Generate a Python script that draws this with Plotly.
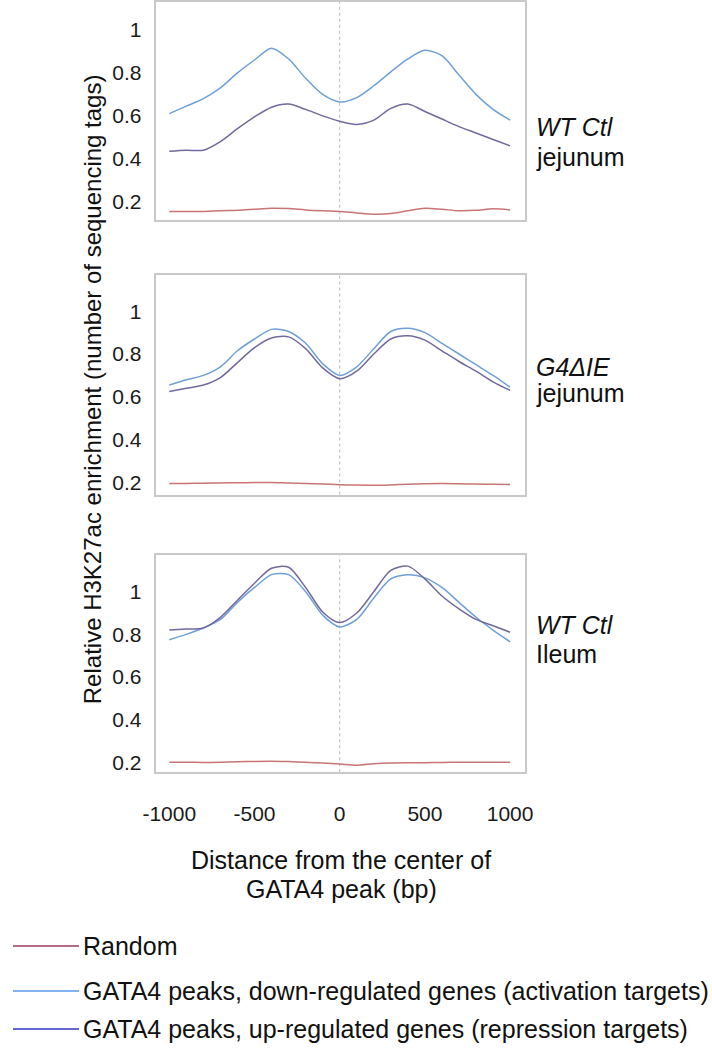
import plotly.graph_objects as go

# ---------------- data ----------------
distance_bp = [-1000, -900, -800, -700, -600, -500, -400, -300, -200, -100, 0,
               100, 200, 300, 400, 500, 600, 700, 800, 900, 1000]

# Panel 1: WT Ctl jejunum
wt_jej_random = [0.155, 0.155, 0.155, 0.158, 0.160, 0.165, 0.170, 0.168, 0.162, 0.158, 0.155,
                 0.148, 0.142, 0.145, 0.158, 0.170, 0.165, 0.158, 0.160, 0.167, 0.162]
wt_jej_act = [0.61, 0.645, 0.68, 0.73, 0.80, 0.86, 0.915, 0.865, 0.775, 0.70, 0.665,
              0.685, 0.74, 0.805, 0.865, 0.905, 0.88, 0.79, 0.70, 0.63, 0.58]
wt_jej_rep = [0.435, 0.44, 0.44, 0.48, 0.54, 0.595, 0.64, 0.655, 0.63, 0.60, 0.575,
              0.56, 0.58, 0.635, 0.655, 0.62, 0.585, 0.55, 0.52, 0.49, 0.46]

# Panel 2: G4ΔIE jejunum
g4_jej_random = [0.195, 0.196, 0.197, 0.198, 0.199, 0.200, 0.200, 0.198, 0.196, 0.193, 0.190,
                 0.188, 0.187, 0.189, 0.192, 0.194, 0.195, 0.194, 0.193, 0.192, 0.191]
g4_jej_act = [0.655, 0.68, 0.70, 0.74, 0.815, 0.87, 0.915, 0.905, 0.85, 0.755, 0.70,
              0.74, 0.825, 0.905, 0.92, 0.90, 0.85, 0.80, 0.75, 0.70, 0.645]
g4_jej_rep = [0.625, 0.64, 0.655, 0.69, 0.76, 0.83, 0.875, 0.88, 0.825, 0.735, 0.685,
              0.72, 0.80, 0.87, 0.885, 0.865, 0.815, 0.765, 0.72, 0.67, 0.63]

# Panel 3: WT Ctl ileum
wt_ile_random = [0.200, 0.200, 0.199, 0.200, 0.202, 0.204, 0.205, 0.203, 0.200, 0.196, 0.192,
                 0.186, 0.193, 0.197, 0.198, 0.198, 0.199, 0.200, 0.200, 0.200, 0.200]
wt_ile_act = [0.775, 0.80, 0.83, 0.87, 0.95, 1.02, 1.08, 1.08, 1.00, 0.89, 0.835,
              0.87, 0.97, 1.06, 1.08, 1.065, 1.02, 0.95, 0.88, 0.82, 0.765]
wt_ile_rep = [0.82, 0.825, 0.83, 0.88, 0.96, 1.04, 1.11, 1.115, 1.02, 0.905, 0.855,
              0.90, 1.00, 1.10, 1.12, 1.06, 0.98, 0.92, 0.87, 0.84, 0.81]

x_tickvals = [-1000, -500, 0, 500, 1000]
x_ticktext = ["-1000", "-500", "0", "500", "1000"]
y_tickvals = [0.2, 0.4, 0.6, 0.8, 1.0]
y_ticktext = ["0.2", "0.4", "0.6", "0.8", "1"]

legend_labels = ["Random",
                 "GATA4 peaks, down-regulated genes (activation targets)",
                 "GATA4 peaks, up-regulated genes (repression targets)"]

panels = [
    (wt_jej_random, wt_jej_act, wt_jej_rep, [0.116, 1.13]),
    (g4_jej_random, g4_jej_act, g4_jej_rep, [0.144, 1.17]),
    (wt_ile_random, wt_ile_act, wt_ile_rep, [0.153, 1.17]),
]

# ---------------- styling ----------------
W, H = 712, 1050
FONT = "Liberation Sans, Arial, sans-serif"
C_RANDOM = "#c97474"
C_ACT = "#6fa0d8"
C_REP = "#72699e"
LEG_COLORS = ["#9b3c62", "#5b9bea", "#3333c4"]
FRAME = "#c9c9c9"

# panel frames in pixel coordinates (top, bottom)
frames_px = [(2, 220), (275, 495), (556, 773)]
x_left_px, x_right_px = 147, 528


def py(p):
    return 1 - p / H


fig = go.Figure()

for i, (rnd, act, rep, yr) in enumerate(panels):
    xa = "x" if i == 0 else f"x{i+1}"
    ya = "y" if i == 0 else f"y{i+1}"
    for vals, col in ((rnd, C_RANDOM), (act, C_ACT), (rep, C_REP)):
        fig.add_trace(go.Scatter(
            x=distance_bp, y=vals, mode="lines",
            line=dict(color=col, width=1.5, shape="spline", smoothing=0.8),
            xaxis=xa, yaxis=ya, showlegend=False, hoverinfo="skip"))
    top, bot = frames_px[i]
    xkey = "xaxis" if i == 0 else f"xaxis{i+1}"
    ykey = "yaxis" if i == 0 else f"yaxis{i+1}"
    fig.layout[xkey] = dict(
        domain=[x_left_px / W, x_right_px / W], range=[-1080, 1090],
        anchor=ya, showgrid=False, zeroline=False,
        showline=True, mirror=True, linecolor=FRAME, linewidth=2,
        tickvals=x_tickvals, ticktext=x_ticktext, ticks="",
        showticklabels=(i == 2), ticklabelstandoff=22,
        tickfont=dict(family=FONT, size=21, color="#1a1a1a"))
    fig.layout[ykey] = dict(
        domain=[py(bot), py(top)], range=yr, anchor=xa,
        showgrid=False, zeroline=False,
        showline=True, mirror=True, linecolor=FRAME, linewidth=2,
        tickvals=y_tickvals, ticktext=y_ticktext, ticks="",
        ticklabelstandoff=8,
        tickfont=dict(family=FONT, size=21, color="#1a1a1a"))
    # dotted centre line at 0 bp
    fig.add_shape(type="line", xref=xa, yref=f"{ya} domain", x0=0, x1=0, y0=0, y1=1,
                  line=dict(color="#b8b8b8", width=1, dash="dot"), layer="below")

annotations = []
# right-hand labels
side_labels = [("<i>WT Ctl</i>", "jejunum", 127, 157),
               ("<i>G4ΔIE</i>", "jejunum", 367, 393),
               ("<i>WT Ctl</i>", "Ileum", 626, 655)]
for l1, l2, y1, y2 in side_labels:
    for txt, yy in ((l1, y1), (l2, y2)):
        annotations.append(dict(text=txt, x=537 / W, y=py(yy), xref="paper", yref="paper",
                                xanchor="left", yanchor="middle", showarrow=False,
                                font=dict(family=FONT, size=25, color="#111")))

# y axis title
annotations.append(dict(text="Relative H3K27ac enrichment (number of sequencing tags)",
                        x=82 / W, y=py(390), xref="paper", yref="paper", textangle=-90,
                        xanchor="center", yanchor="middle", showarrow=False,
                        font=dict(family=FONT, size=24, color="#111")))
# x axis title
for txt, yy in (("Distance from the center of", 861), ("GATA4 peak (bp)", 890)):
    annotations.append(dict(text=txt, x=338 / W, y=py(yy), xref="paper", yref="paper",
                            xanchor="center", yanchor="middle", showarrow=False,
                            font=dict(family=FONT, size=25, color="#111")))

# legend
leg_y = [947, 992, 1030]
for lab, col, yy in zip(legend_labels, LEG_COLORS, leg_y):
    fig.add_shape(type="line", xref="paper", yref="paper", x0=0, x1=68 / W,
                  y0=py(yy), y1=py(yy), line=dict(color=col, width=1.5))
    annotations.append(dict(text=lab, x=70 / W, y=py(yy), xref="paper", yref="paper",
                            xanchor="left", yanchor="middle", showarrow=False,
                            font=dict(family=FONT, size=25, color="#111")))

fig.update_layout(width=W, height=H, margin=dict(l=0, r=0, t=0, b=0),
                  paper_bgcolor="white", plot_bgcolor="white",
                  annotations=annotations, showlegend=False)

fig.write_html("out.html", config={"displayModeBar": False},
               post_script="document.body.style.margin='0px';"
                           "document.body.style.overflow='hidden';")
